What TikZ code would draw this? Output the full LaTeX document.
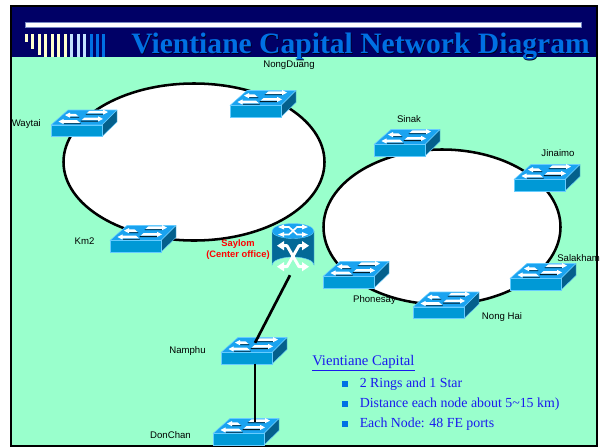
\documentclass[tikz,border=0pt]{standalone}
\usepackage{fontspec}
\setmainfont{Liberation Serif}
\setsansfont{Liberation Sans}
\definecolor{slidegreen}{HTML}{99FFCC}
\definecolor{navy}{HTML}{000066}
\definecolor{titleblue}{HTML}{0070E4}
\definecolor{cream}{HTML}{FFFFCC}
\definecolor{paleblue}{HTML}{C4E2FF}
\definecolor{swfront}{HTML}{0099D6}
\definecolor{swtop}{HTML}{1AA3F0}
\definecolor{swside}{HTML}{04608C}
\definecolor{swedge}{HTML}{66CCFF}
\definecolor{textblue}{HTML}{1A1AEE}
\def\px{0.75pt}
\tikzset{
  x=0.75pt,y=-0.75pt,
  ring/.style={draw=black,line width=1.9pt,fill=white},
  link/.style={draw=black,line width=2pt},
  swbox/.style={inner sep=0pt,outer sep=0pt,minimum width=49.5pt,minimum height=20.5pt},
  lab/.style={font=\sffamily\fontsize{7.2}{8}\selectfont,inner sep=0pt,text=black},
  redlab/.style={font=\sffamily\bfseries\fontsize{7}{8.6}\selectfont,inner sep=0pt,text=red,align=center},
  body/.style={font=\fontsize{10.4}{12}\selectfont,inner sep=0pt,text=textblue,anchor=west},
}
\newcommand{\swarr}[4]{% tip x, y, dir(+1/-1), length
  \fill[black!70!swside] (#1-#3*5,#2+2.6) -- (#1-#3*#4-#3*2,#2+2.6) -- (#1-#3*#4-#3*2.4,#2+1.8) -- (#1-#3*5,#2+1.8) -- cycle;
  \fill[white] (#1,#2) -- (#1-#3*5,#2-2.6) -- (#1-#3*5,#2-1.3) -- (#1-#3*#4+#3*1.5,#2-1.3) -- (#1-#3*#4-#3*1.5,#2+1.3) -- (#1-#3*5,#2+1.3) -- (#1-#3*5,#2+2.6) -- cycle;
}
\newcommand{\switchbox}[3]{% name, left x, top y
  \begin{scope}[shift={(#2,#3)}]
    \path[fill=swtop,draw=swedge,line width=0.4pt,line join=round] (0,15.5) -- (51,15.5) -- (66,0.5) -- (17,0.5) -- cycle;
    \path[fill=swside,draw=swedge,line width=0.3pt,line join=round] (51,15.5) -- (66,0.5) -- (66,12.5) -- (51,27) -- cycle;
    \path[fill=swfront,draw=swedge,line width=0.4pt] (0,15.5) rectangle (51,27);
    \swarr{57}{2.6}{1}{20}
    \swarr{52}{9.4}{1}{20}
    \swarr{14}{5.6}{-1}{12}
    \swarr{7.5}{12}{-1}{20}
    \node[swbox] (#1) at (33,13.5) {};
  \end{scope}
}
\begin{document}
\begin{tikzpicture}
\useasboundingbox (0,0) rectangle (602,447);
\fill[white] (0,0) rectangle (602,447);
% slide
\fill[black] (10,5) rectangle (598,447);
\fill[slidegreen] (12,7) rectangle (596,445);
\fill[navy] (12,7) rectangle (596,57);
\fill[white,draw=paleblue!60!navy,line width=0.4pt] (25,22.5) rectangle (581,27);
% title bars
\foreach \bx/\bb/\bc in {25/42/cream,31.3/49/cream,38/55/cream,44.3/57/cream,51/57/cream,57.3/57/cream,64/57/cream,70.3/57/paleblue,77/57/paleblue,83.3/57/paleblue,90/57/titleblue,96.3/57/titleblue,102.3/57/titleblue}
  \fill[\bc] (\bx,34) rectangle (\bx+3,\bb);
% title
\node[inner sep=0pt,anchor=base west,text=black!70!navy,font=\bfseries\fontsize{22.2}{26}\selectfont] (titleshadow) at (131.6,54.4) {Vientiane Capital Network Diagram};
\node[inner sep=0pt,anchor=base west,text=titleblue,font=\bfseries\fontsize{22.2}{26}\selectfont] (title) at (131,53.8) {Vientiane Capital Network Diagram};
% rings
\draw[ring] (194,162) ellipse [x radius=130.5,y radius=78.5];
\draw[ring] (442,227) ellipse [x radius=118.5,y radius=77.5];
% switches
\switchbox{waytai}{51}{109.5}
\switchbox{nongduang}{230}{90}
\switchbox{kmtwo}{110}{225}
\switchbox{sinak}{374}{129}
\switchbox{jinaimo}{514}{164}
\switchbox{salakham}{510}{263}
\switchbox{nonghai}{413}{291.5}
\switchbox{phonesay}{323}{261}
\switchbox{namphu}{221}{337}
\switchbox{donchan}{213}{418}
% core router
\begin{scope}[shift={(293,248)}]
  \path[fill=swside!85!swfront,draw=swedge,line width=0.3pt] (-21,-17) -- (-21,17) arc[start angle=180,end angle=360,x radius=21,y radius=8] -- (21,-17) -- cycle;
  \path[fill=swtop,draw=swedge,line width=0.3pt] (0,-17) ellipse [x radius=21,y radius=7.5];
  % top cross
  \draw[white,line width=1.2pt] (-10,-21) -- (-4,-21) -- (4,-13.5) -- (10,-13.5) (10,-21) -- (4,-21) -- (-4,-13.5) -- (-10,-13.5);
  \fill[white] (-15,-21) -- (-9,-23.5) -- (-9,-18.5) -- cycle;
  \fill[white] (15,-21) -- (9,-23.5) -- (9,-18.5) -- cycle;
  \fill[white] (-15,-13.5) -- (-9,-16) -- (-9,-11) -- cycle;
  \fill[white] (15,-13.5) -- (9,-16) -- (9,-11) -- cycle;
  % side cross
  \draw[white,line width=2.2pt,line join=round] (-10,-2.3) -- (-6,-2.3) -- (6,18.7) -- (10,18.7) (10,-2.3) -- (6,-2.3) -- (-6,18.7) -- (-10,18.7);
  \fill[white] (-16,-2.3) -- (-9,-7) -- (-9,2.4) -- cycle;
  \fill[white] (16,-2.3) -- (9,-7) -- (9,2.4) -- cycle;
  \fill[white] (-16,18.7) -- (-9,14) -- (-9,23.4) -- cycle;
  \fill[white] (16,18.7) -- (9,14) -- (9,23.4) -- cycle;
  \node[inner sep=0pt,outer sep=0pt,minimum width=31.5pt,minimum height=37pt] (saylom) at (0,1) {};
\end{scope}
% connectors
\draw[link] ([xshift=-3*\px,yshift=-1.5*\px]saylom.south) -- ([xshift=1*\px,yshift=-6*\px]namphu.north);
\draw[link] ([xshift=1*\px,yshift=0.5*\px]namphu.south) -- ([xshift=9*\px,yshift=-4*\px]donchan.north);
% labels
\node[lab] (lnongduang) at (289,65) {NongDuang};
\node[lab,anchor=west] (lwaytai) at (11.5,124) {Waytai};
\node[lab] (lkm) at (84.5,241) {Km2};
\node[lab] (lsinak) at (409,119) {Sinak};
\node[lab] (ljinaimo) at (558,153) {Jinaimo};
\node[lab,anchor=west] (lsalakham) at (557,258) {Salakham};
\node[lab] (lphonesay) at (374.5,300.5) {Phonesay};
\node[lab] (lnonghai) at (502,317) {Nong Hai};
\node[lab] (lnamphu) at (187.5,351.5) {Namphu};
\node[lab] (ldonchan) at (170.5,435) {DonChan};
\node[redlab] (lsaylom) at (238,249.5) {Saylom\\(Center office)};
% text block
\node[body,font=\fontsize{11}{12}\selectfont] (vc) at (312,362) {Vientiane Capital};
\draw[draw=textblue,line width=0.6pt] ([yshift=-1*\px]vc.south west) -- ([yshift=-1*\px]vc.south east);
\foreach \yy/\itemtext in {384/2 Rings and 1 Star,404/Distance each node about 5\textasciitilde15 km),424/Each Node: 48 FE ports}{
  \fill[titleblue] (342,\yy-3) rectangle (347.5,\yy+2.5);
  \node[body] at (359.5,\yy) {\itemtext};
}
\end{tikzpicture}
\end{document}
